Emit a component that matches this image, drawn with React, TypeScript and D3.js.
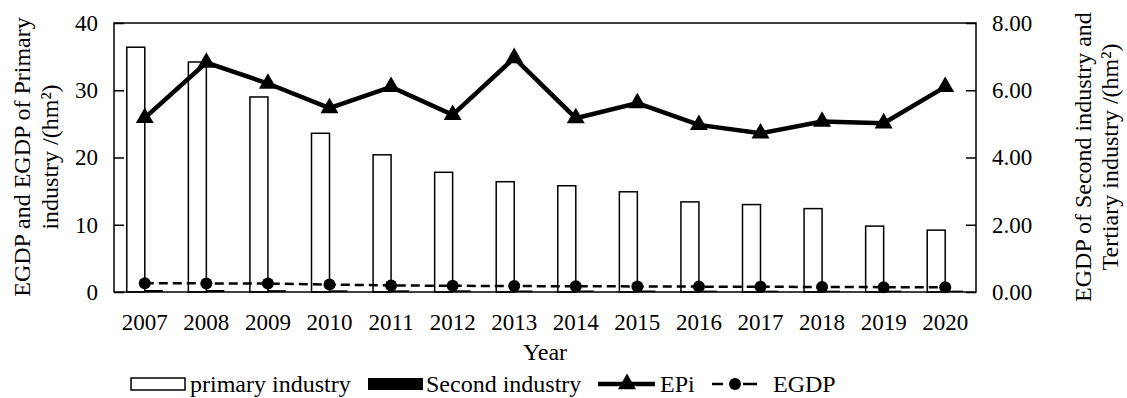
import React, { useEffect, useRef } from 'react';
import * as d3 from 'd3';

const years = ['2007', '2008', '2009', '2010', '2011', '2012', '2013', '2014', '2015', '2016', '2017', '2018', '2019', '2020'];
// left axis (hm²)
const primaryIndustry = [36.4, 34.2, 29.0, 23.6, 20.4, 17.8, 16.4, 15.8, 14.9, 13.4, 13.0, 12.4, 9.8, 9.2];
const egdp = [1.3, 1.28, 1.25, 1.1, 0.98, 0.92, 0.88, 0.86, 0.83, 0.8, 0.78, 0.75, 0.72, 0.7];
// right axis (hm²)
const secondIndustry = [0.06, 0.06, 0.055, 0.05, 0.05, 0.05, 0.045, 0.045, 0.045, 0.04, 0.04, 0.04, 0.04, 0.04];
const epi = [5.18, 6.82, 6.2, 5.47, 6.1, 5.27, 6.96, 5.17, 5.62, 4.97, 4.72, 5.07, 5.02, 6.1];

const leftTicks = [0, 10, 20, 30, 40];
const rightTicks = [0, 2, 4, 6, 8];

const W = 1127;
const H = 398;
const FONT = '"Liberation Serif", "Times New Roman", serif';

const App = () => {
    const svgRef = useRef<SVGSVGElement>(null);

    useEffect(() => {
        if (!svgRef.current) return;
        const svg = d3.select(svgRef.current);
        svg.selectAll('*').remove();

        const m = { left: 114, right: 976, top: 23, bottom: 292 };
        const barW = 18;

        const x = d3.scaleBand().domain(years).range([m.left, m.right]);
        const cx = (d: string) => (x(d) as number) + x.bandwidth() / 2;
        const yL = d3.scaleLinear().domain([0, 40]).range([m.bottom, m.top]);
        const yR = d3.scaleLinear().domain([0, 8]).range([m.bottom, m.top]);

        // bars: primary industry (hollow)
        svg.append('g')
            .selectAll('rect')
            .data(years)
            .join('rect')
            .attr('x', d => cx(d) - barW)
            .attr('y', (d, i) => yL(primaryIndustry[i]))
            .attr('width', barW)
            .attr('height', (d, i) => m.bottom - yL(primaryIndustry[i]))
            .attr('fill', '#fff')
            .attr('stroke', '#000')
            .attr('stroke-width', 1.5);

        // bars: second industry (black)
        svg.append('g')
            .selectAll('rect')
            .data(years)
            .join('rect')
            .attr('x', d => cx(d))
            .attr('y', (d, i) => yR(secondIndustry[i]))
            .attr('width', barW)
            .attr('height', (d, i) => m.bottom - yR(secondIndustry[i]))
            .attr('fill', '#000');

        // frame
        svg.append('rect')
            .attr('x', m.left)
            .attr('y', m.top)
            .attr('width', m.right - m.left)
            .attr('height', m.bottom - m.top)
            .attr('fill', 'none')
            .attr('stroke', '#000')
            .attr('stroke-width', 1.5);

        // axes
        const styleAxis = (g: any) => {
            g.select('.domain').remove();
            g.selectAll('.tick line').attr('stroke', '#000').attr('stroke-width', 1.5);
            g.selectAll('text')
                .attr('fill', '#000')
                .style('font-family', FONT)
                .style('font-size', '23px');
        };

        svg.append('g')
            .attr('transform', `translate(${m.left},0)`)
            .call(d3.axisLeft(yL).tickValues(leftTicks).tickSize(-10).tickPadding(16))
            .call(styleAxis);

        svg.append('g')
            .attr('transform', `translate(${m.right},0)`)
            .call(d3.axisRight(yR).tickValues(rightTicks).tickSize(-10).tickPadding(16).tickFormat(d3.format('.2f')))
            .call(styleAxis);

        svg.append('g')
            .attr('transform', `translate(0,${m.bottom})`)
            .call(d3.axisBottom(x).tickSize(0).tickPadding(22))
            .call(styleAxis);

        // EGDP dashed line
        const lineL = d3.line<number>()
            .x((d, i) => cx(years[i]))
            .y(d => yL(d));
        svg.append('path')
            .datum(egdp)
            .attr('d', lineL)
            .attr('fill', 'none')
            .attr('stroke', '#000')
            .attr('stroke-width', 2.5)
            .attr('stroke-dasharray', '9,5');
        svg.append('g')
            .selectAll('circle')
            .data(egdp)
            .join('circle')
            .attr('cx', (d, i) => cx(years[i]))
            .attr('cy', d => yL(d))
            .attr('r', 6)
            .attr('fill', '#000');

        // EPi line
        const lineR = d3.line<number>()
            .x((d, i) => cx(years[i]))
            .y(d => yR(d));
        svg.append('path')
            .datum(epi)
            .attr('d', lineR)
            .attr('fill', 'none')
            .attr('stroke', '#000')
            .attr('stroke-width', 4.5)
            .attr('stroke-linejoin', 'miter');
        const tri = d3.symbol().type(d3.symbolTriangle).size(140);
        svg.append('g')
            .selectAll('path')
            .data(epi)
            .join('path')
            .attr('d', tri)
            .attr('transform', (d, i) => `translate(${cx(years[i])},${yR(d)})`)
            .attr('fill', '#000');

        // axis titles
        svg.append('text')
            .attr('x', (m.left + m.right) / 2)
            .attr('y', 360)
            .attr('text-anchor', 'middle')
            .style('font-family', FONT)
            .style('font-size', '24px')
            .text('Year');

        const vTitle = (lines: string[], xs: number[]) => {
            lines.forEach((t, i) => {
                svg.append('text')
                    .attr('transform', `translate(${xs[i]},157) rotate(-90)`)
                    .attr('text-anchor', 'middle')
                    .attr('dy', '0.35em')
                    .style('font-family', FONT)
                    .style('font-size', '24px')
                    .text(t);
            });
        };
        vTitle(['EGDP and EGDP of Primary', 'industry /(hm²)'], [22, 50]);
        vTitle(['EGDP of Second industry and', 'Tertiary industry /(hm²)'], [1083, 1110]);

        // legend
        const lg = svg.append('g').style('font-family', FONT).style('font-size', '24px');
        const ly = 384;
        lg.append('rect').attr('x', 131).attr('y', ly - 6).attr('width', 54).attr('height', 12)
            .attr('fill', '#fff').attr('stroke', '#000').attr('stroke-width', 1.5);
        lg.append('text').attr('x', 190).attr('y', 392).text('primary industry');

        lg.append('rect').attr('x', 368).attr('y', ly - 6).attr('width', 55).attr('height', 12).attr('fill', '#000');
        lg.append('text').attr('x', 426).attr('y', 392).text('Second industry');

        lg.append('line').attr('x1', 598).attr('x2', 655).attr('y1', ly).attr('y2', ly)
            .attr('stroke', '#000').attr('stroke-width', 4.5);
        lg.append('path').attr('d', tri).attr('transform', `translate(627,${ly})`).attr('fill', '#000');
        lg.append('text').attr('x', 660).attr('y', 392).text('EPi');

        lg.append('line').attr('x1', 712).attr('x2', 723).attr('y1', ly).attr('y2', ly)
            .attr('stroke', '#000').attr('stroke-width', 2.5);
        lg.append('line').attr('x1', 743).attr('x2', 757).attr('y1', ly).attr('y2', ly)
            .attr('stroke', '#000').attr('stroke-width', 2.5);
        lg.append('circle').attr('cx', 735).attr('cy', ly).attr('r', 6).attr('fill', '#000');
        lg.append('text').attr('x', 773).attr('y', 392).text('EGDP');
    }, []);

    return (
        <svg
            ref={svgRef}
            width={W}
            height={H}
            style={{ position: 'absolute', left: 0, top: 0, background: '#fff' }}
        />
    );
};

export default App;
